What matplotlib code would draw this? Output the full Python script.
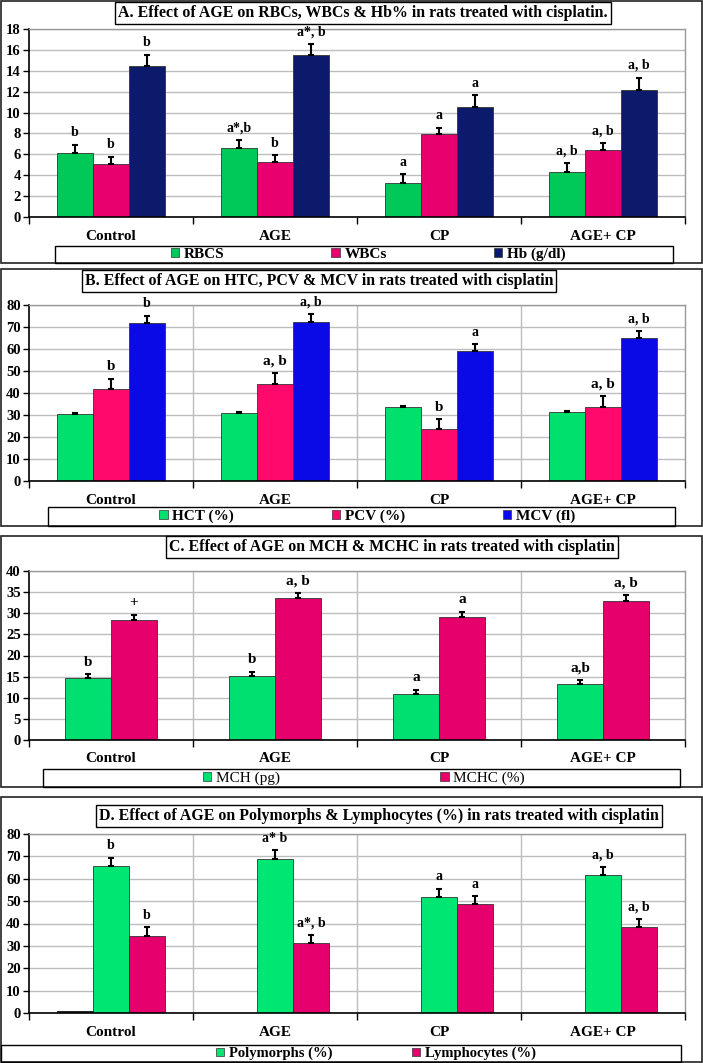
import numpy as np
import matplotlib
matplotlib.use("Agg")
import matplotlib.pyplot as plt
from matplotlib.patches import Rectangle, Patch

plt.rcParams['font.family'] = ['Liberation Serif', 'DejaVu Serif']
plt.rcParams['font.weight'] = 'bold'

groups = ['Control', 'AGE', 'CP', 'AGE+ CP']

# A. RBCs, WBCs, Hb
rbc = [6.1, 6.6, 3.25, 4.3]
rbc_err = [0.8, 0.75, 0.85, 0.85]
wbc = [5.1, 5.25, 7.95, 6.4]
wbc_err = [0.65, 0.65, 0.6, 0.65]
hb = [14.45, 15.5, 10.5, 12.2]
hb_err = [1.1, 1.1, 1.15, 1.15]
rbc_lab = ['b', 'a*,b', 'a', 'a, b']
wbc_lab = ['b', 'b', 'a', 'a, b']
hb_lab = ['b', 'a*, b', 'a', 'a, b']

# B. HCT, PCV, MCV
hct = [30.5, 30.8, 33.5, 31.2]
hct_err = [0.6, 0.6, 0.6, 0.6]
pcv = [42.0, 44.2, 23.5, 33.8]
pcv_err = [4.5, 4.7, 4.6, 4.7]
mcv = [72.0, 72.5, 59.0, 64.8]
mcv_err = [3.2, 3.2, 3.2, 3.3]
hct_lab = ['', '', '', '']
pcv_lab = ['b', 'a, b', 'b', 'a, b']
mcv_lab = ['b', 'a, b', 'a', 'a, b']

# C. MCH, MCHC
mch = [14.6, 15.1, 10.9, 13.3]
mch_err = [0.95, 1.0, 1.0, 0.95]
mchc = [28.3, 33.5, 29.0, 33.0]
mchc_err = [1.4, 1.35, 1.4, 1.35]
mch_lab = ['b', 'b', 'a', 'a,b']
mchc_lab = ['+', 'a, b', 'a', 'a, b']

# D. Polymorphs, Lymphocytes
other = [1.0, 0, 0, 0]
poly = [65.6, 69.0, 51.7, 61.5]
poly_err = [3.7, 3.7, 3.8, 3.6]
lymph = [34.5, 31.2, 48.6, 38.5]
lymph_err = [3.8, 3.8, 3.6, 3.6]
poly_lab = ['b', 'a* b', 'a', 'a, b']
lymph_lab = ['b', 'a*, b', 'a', 'a, b']

W, H = 703, 1063
fig = plt.figure(figsize=(W / 100, H / 100), dpi=100)
x = np.arange(len(groups))


def fx(px):
    return px / W


def fy(py):
    return 1 - py / H


def make_axes(top, bottom):
    ax = fig.add_axes([fx(29), fy(bottom), fx(656), (bottom - top) / H])
    return ax


def style_axes(ax, ymax, step, vgrid):
    ax.set_xlim(-0.5, 3.5)
    ax.set_ylim(0, ymax)
    ax.set_yticks(np.arange(0, ymax + 0.1, step))
    ax.yaxis.grid(True, color='#bdbdbd', lw=1)
    ax.set_axisbelow(True)
    ax.set_xticks(x)
    ax.set_xticklabels(groups, fontsize=11, fontweight='bold')
    ax.tick_params(axis='x', which='major', length=0, pad=9)
    ax.set_xticks([-0.5, 0.5, 1.5, 2.5, 3.5], minor=True)
    ax.tick_params(axis='x', which='minor', length=5, width=1, direction='out')
    ax.tick_params(axis='y', labelsize=10.5, length=4, width=1, direction='out', pad=2)
    if vgrid:
        for b in [0.5, 1.5, 2.5]:
            ax.axvline(b, color='#bdbdbd', lw=1, zorder=0)
    for s in ['left', 'bottom']:
        ax.spines[s].set_color('black')
        ax.spines[s].set_linewidth(1.2)
    for s in ['top', 'right']:
        ax.spines[s].set_color('#999999')
        ax.spines[s].set_linewidth(1)


def draw_series(ax, off, w, vals, errs, color, labels, lab_size=10):
    bars = ax.bar(x + off, vals, w, color=color, edgecolor='#333333', lw=0.6, zorder=2)
    if errs is not None:
        ax.errorbar(x + off, vals, yerr=[np.zeros(len(vals)), errs], fmt='none',
                    ecolor='black', elinewidth=1.5, capsize=2.5, capthick=1.5, zorder=3)
        for xi, v, e, lab in zip(x + off, vals, errs, labels):
            if lab:
                ax.annotate(lab, (xi, v + e), xytext=(0, 4), textcoords='offset points',
                            ha='center', va='bottom', fontsize=lab_size, fontweight='bold')
    return bars


def panel_box(top, bottom):
    fig.add_artist(Rectangle((fx(1), fy(bottom)), fx(701), (bottom - top) / H,
                             transform=fig.transFigure, fill=False, ec='#222222', lw=1.2))


def title_box(text, cx, cy, size=11.4):
    fig.text(fx(cx), fy(cy), text, ha='center', va='center', fontsize=size, fontweight='bold',
             bbox=dict(boxstyle='square,pad=0.2', fc='white', ec='black', lw=1))


def legend_box(ax, handles, labels, x0, x1, top, bottom, spacing, cx=None, weight='bold', size=11):
    fig.add_artist(Rectangle((fx(x0), fy(bottom)), fx(x1 - x0), (bottom - top) / H,
                             transform=fig.transFigure, fill=False, ec='black', lw=1))
    if cx is None:
        cx = (x0 + x1) / 2
    ax.legend(handles, labels, loc='center', bbox_to_anchor=(fx(cx), fy((top + bottom) / 2)),
              bbox_transform=fig.transFigure, ncol=len(labels), frameon=False,
              handlelength=0.55, handleheight=0.55, handletextpad=0.3, columnspacing=spacing,
              borderpad=0, prop={'size': size, 'weight': weight, 'family': 'Liberation Serif'})


# ---- Panel A
panel_box(1, 263)
axA = make_axes(29, 217)
style_axes(axA, 18, 2, False)
cA = ['#00c957', '#e8006e', '#0c1a6b']
draw_series(axA, -0.22, 0.22, rbc, rbc_err, cA[0], rbc_lab)
draw_series(axA, 0, 0.22, wbc, wbc_err, cA[1], wbc_lab)
draw_series(axA, 0.22, 0.22, hb, hb_err, cA[2], hb_lab)
title_box('A. Effect of AGE on RBCs, WBCs & Hb% in rats treated with cisplatin.', 363, 13)
legend_box(axA, [Patch(fc=c, ec='#333333', lw=0.5) for c in cA], ['RBCS', 'WBCs', 'Hb (g/dl)'],
           55, 673, 246, 263, 7.0, cx=368)

# ---- Panel B
panel_box(269, 526)
axB = make_axes(305, 481)
style_axes(axB, 80, 10, True)
cB = ['#00e06c', '#ff0a6c', '#0a0ae6']
draw_series(axB, -0.22, 0.22, hct, hct_err, cB[0], hct_lab)
draw_series(axB, 0, 0.22, pcv, pcv_err, cB[1], pcv_lab, 11)
draw_series(axB, 0.22, 0.22, mcv, mcv_err, cB[2], mcv_lab)
title_box('B. Effect of AGE on HTC, PCV & MCV in rats treated with cisplatin', 319, 281)
legend_box(axB, [Patch(fc=c, ec='#333333', lw=0.5) for c in cB], ['HCT (%)', 'PCV (%)', 'MCV (fl)'],
           48, 675, 507, 526, 6.4, cx=367)

# ---- Panel C
panel_box(536, 787)
axC = make_axes(571, 740)
style_axes(axC, 40, 5, True)
cC = ['#00e070', '#e6006b']
draw_series(axC, -0.14, 0.28, mch, mch_err, cC[0], mch_lab, 11)
draw_series(axC, 0.14, 0.28, mchc, mchc_err, cC[1], mchc_lab, 11)
title_box('C. Effect of AGE on MCH & MCHC in rats treated with cisplatin', 392, 547)
legend_box(axC, [Patch(fc=c, ec='#333333', lw=0.5) for c in cC], ['MCH (pg)', 'MCHC (%)'],
           43, 680, 769, 787, 10.5, cx=364, weight='normal')

# ---- Panel D
panel_box(797, 1062)
axD = make_axes(834, 1013)
style_axes(axD, 80, 10, True)
cD = ['#2b2b1f', '#00e672', '#e6006e']
axD.bar(x - 0.22, other, 0.22, color=cD[0], edgecolor='#111111', lw=0.6, zorder=2)
draw_series(axD, 0, 0.22, poly, poly_err, cD[1], poly_lab)
draw_series(axD, 0.22, 0.22, lymph, lymph_err, cD[2], lymph_lab)
title_box('D. Effect of AGE on Polymorphs & Lymphocytes (%) in rats treated with cisplatin', 379, 816)
legend_box(axD, [Patch(fc=c, ec='#333333', lw=0.5) for c in cD[1:]], ['Polymorphs (%)', 'Lymphocytes (%)'],
           1, 681, 1045, 1062, 5.5, cx=376, size=10.5)

fig.savefig('out.png', dpi=100)
